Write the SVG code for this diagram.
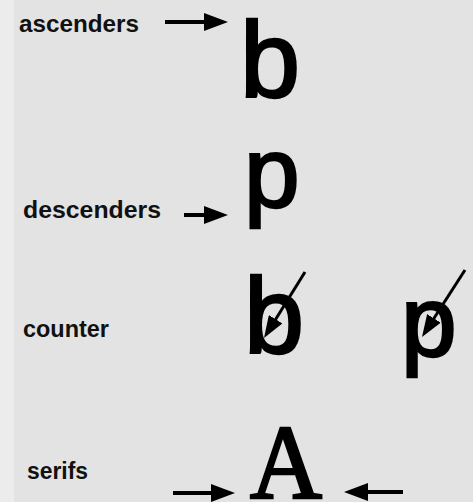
<svg xmlns="http://www.w3.org/2000/svg" width="473" height="502" viewBox="0 0 473 502">
  <style>
    .lbl { font-family: "Liberation Sans", Arial, sans-serif; font-weight: bold; fill: #111; }
    .big { font-family: "Liberation Sans", Arial, sans-serif; font-size: 108px; fill: #000; stroke: #000; stroke-width: 2.5; }
    .bigp { font-size: 100px; }
    .serif { font-family: "Liberation Serif", "Times New Roman", serif; font-size: 106px; fill: #000; stroke: #000; stroke-width: 2.5; }
    .arr { stroke: #000; stroke-width: 4; fill: none; }
    .arrS { stroke: #000; stroke-width: 3; fill: none; }
  </style>
  <defs>
    <marker id="head" viewBox="0 0 24 18" refX="14" refY="9" markerWidth="24" markerHeight="18" markerUnits="userSpaceOnUse" orient="auto">
      <path d="M0,0 L24,9 L0,18 Z" fill="#000"/>
    </marker>
    <marker id="headS" viewBox="0 0 22 16" refX="12" refY="8" markerWidth="22" markerHeight="16" markerUnits="userSpaceOnUse" orient="auto">
      <path d="M0,0 L22,8 L0,16 Z" fill="#000"/>
    </marker>
  </defs>
  <rect width="473" height="502" fill="#e3e3e3"/>
  <rect width="14" height="502" fill="#ececec"/>

  <g id="label-ascenders"><text class="lbl" x="19" y="32" font-size="24" textLength="120" lengthAdjust="spacingAndGlyphs">ascenders</text></g>
  <g id="glyph-b"><text class="big" x="240" y="97">b</text></g>

  <g id="label-descenders"><text class="lbl" x="23" y="218" font-size="24.5" textLength="138" lengthAdjust="spacingAndGlyphs">descenders</text></g>
  <g id="glyph-p"><text class="big bigp" x="244" y="207">p</text></g>

  <g id="label-counter"><text class="lbl" x="23" y="337" font-size="24" textLength="86" lengthAdjust="spacingAndGlyphs">counter</text></g>
  <g id="glyph-counter-b"><text class="big" x="244" y="353">b</text></g>
  <g id="glyph-counter-p"><text class="big bigp" x="401" y="356">p</text></g>

  <g id="label-serifs"><text class="lbl" x="27" y="479" font-size="23" textLength="61" lengthAdjust="spacingAndGlyphs">serifs</text></g>
  <g id="glyph-A"><text class="serif" x="250" y="498" textLength="72" lengthAdjust="spacingAndGlyphs">A</text></g>

  <g id="connectors">
    <line class="arr" x1="165" y1="22" x2="218" y2="22" marker-end="url(#head)"/>
    <line class="arr" x1="184" y1="215" x2="218" y2="215" marker-end="url(#head)"/>
    <line class="arr" x1="173" y1="493" x2="225" y2="493" marker-end="url(#head)"/>
    <line class="arr" x1="403" y1="492" x2="354" y2="492" marker-end="url(#head)"/>
    <line class="arrS" x1="305" y1="272" x2="269.3" y2="329.5" marker-end="url(#headS)"/>
    <line class="arrS" x1="465" y1="270" x2="427.4" y2="328.5" marker-end="url(#headS)"/>
  </g>
</svg>
